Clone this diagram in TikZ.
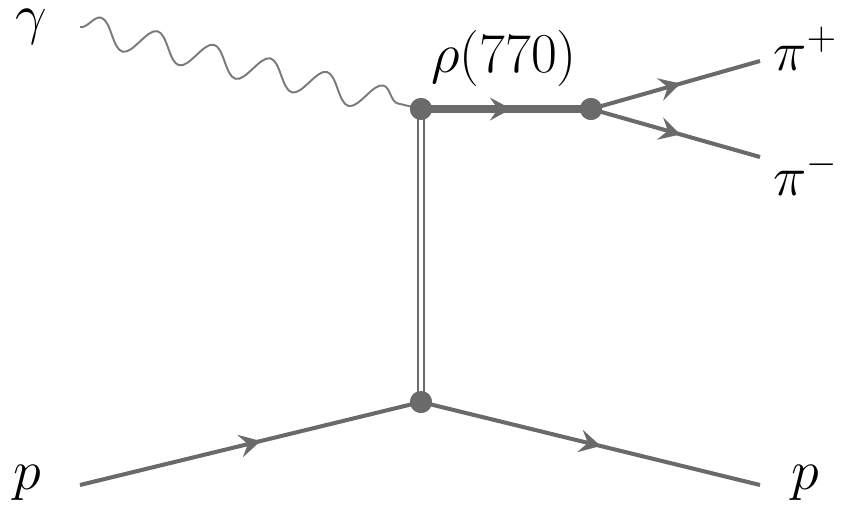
\documentclass[tikz,border=0pt]{standalone}
\usepackage{graphicx}
\usetikzlibrary{arrows.meta,decorations.pathmorphing,decorations.markings}
\definecolor{fg}{HTML}{6A6A6A}
\definecolor{ph}{HTML}{7A7A7A}
\newcommand\mylab[1]{\scalebox{1.543}{\huge$#1$}}
\tikzset{
  fermion/.style={draw=fg,line width=2.3pt,postaction={decorate},
    decoration={markings,mark=at position 0.53 with {\arrow[fg]{Stealth[length=12pt,width=13pt,inset=4.5pt]}}}},
  photon/.style={draw=ph,line width=1.1pt,decorate,decoration={snake,segment length=1.162cm,amplitude=0.28cm}},
  propag/.style={draw=fg,line width=1.1pt,double=white,double distance=2.8pt},
  vtx/.style={circle,fill=fg,inner sep=0pt,minimum size=0.44cm},
  lbl/.style={inner sep=0pt}
}
\begin{document}
\begin{tikzpicture}[x=0.02cm,y=-0.02cm]
\useasboundingbox (0,0) rectangle (850,505);
\coordinate (gin) at (80,27);
\coordinate (pin) at (80,485);
\coordinate (pout) at (760,485);
\coordinate (pip) at (760,61);
\coordinate (pim) at (760,157);
\node[vtx] (v1) at (421,109) {};
\node[vtx] (v2) at (591,109) {};
\node[vtx] (v3) at (421,402) {};
\draw[propag] (v1.center) -- (v3.center);
\draw[photon] (gin) -- (v1.center);
\draw[fermion,line width=4pt] (v1.center) -- (v2.center);
\draw[fermion] (v2.center) -- (pip);
\draw[fermion] (v2.center) -- (pim);
\draw[fermion] (pin) -- (v3.center);
\draw[fermion] (v3.center) -- (pout);
\node[vtx] at (v1) {};
\node[vtx] at (v2) {};
\node[vtx] at (v3) {};
\node[lbl,anchor=base west] (lg) at (15,33) {\mylab{\gamma}};
\node[lbl] (lr) at (504,58) {\mylab{\rho(770)}};
\node[lbl,anchor=base west] (lpp) at (773,70) {\mylab{\pi^+}};
\node[lbl,anchor=base west] (lpm) at (773,195) {\mylab{\pi^-}};
\node[lbl,anchor=base west] (lp1) at (13,489) {\mylab{p}};
\node[lbl,anchor=base west] (lp2) at (791,489) {\mylab{p}};
\end{tikzpicture}
\end{document}
